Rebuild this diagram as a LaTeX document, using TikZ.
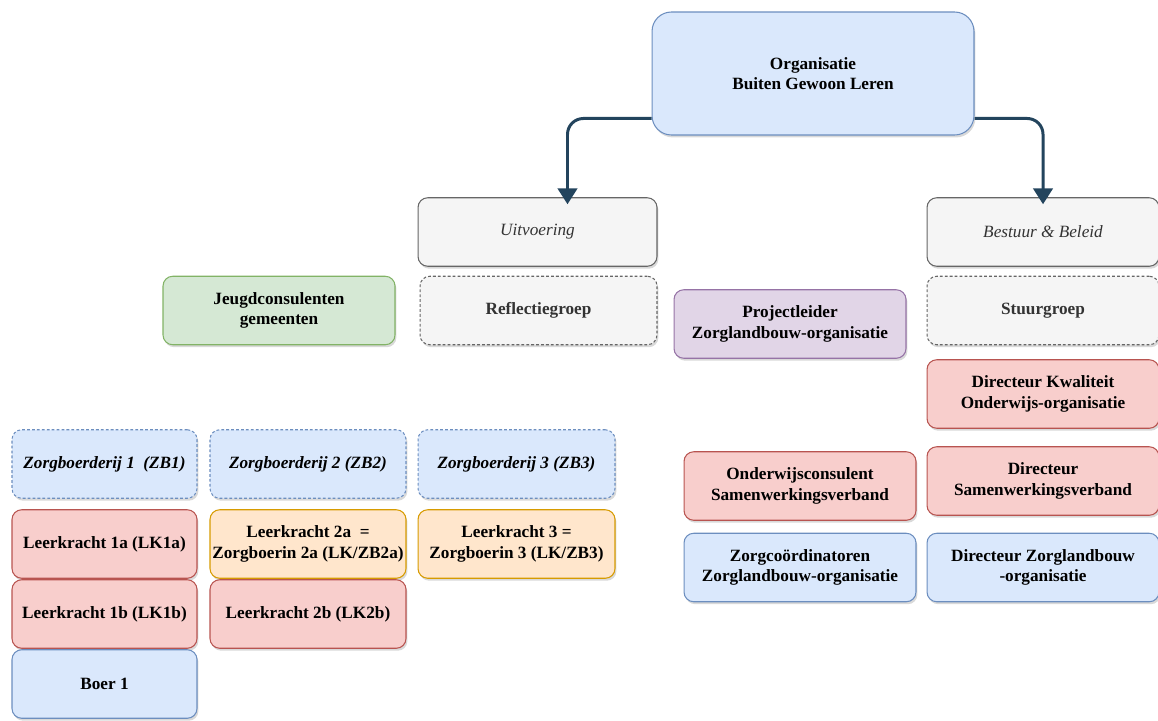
\documentclass[tikz,border=0pt]{standalone}
\usepackage{fontspec}
\setmainfont{Liberation Serif}
\usetikzlibrary{shapes,arrows.meta,shadows}
\definecolor{blauwvul}{HTML}{DAE8FC}
\definecolor{blauwlijn}{HTML}{6C8EBF}
\definecolor{roodvul}{HTML}{F8CECC}
\definecolor{roodlijn}{HTML}{B85450}
\definecolor{groenvul}{HTML}{D5E8D4}
\definecolor{groenlijn}{HTML}{82B366}
\definecolor{paarsvul}{HTML}{E1D5E7}
\definecolor{paarslijn}{HTML}{9673A6}
\definecolor{oranjevul}{HTML}{FFE6CC}
\definecolor{oranjelijn}{HTML}{D79B00}
\definecolor{grijsvul}{HTML}{F5F5F5}
\definecolor{grijslijn}{HTML}{666666}
\definecolor{grijstekst}{HTML}{333333}
\definecolor{pijlkleur}{HTML}{23445D}
\tikzset{
  blok/.style={draw,rectangle,rounded corners=5.5pt,line width=0.6pt,align=center,inner sep=0pt,
    font=\fontsize{9.8}{11.5}\selectfont\bfseries,minimum width=4.64cm,minimum height=1.37cm,
    drop shadow={opacity=0.3,shadow xshift=0.8pt,shadow yshift=-1.4pt}},
  blauw/.style={blok,fill=blauwvul,draw=blauwlijn},
  rood/.style={blok,fill=roodvul,draw=roodlijn},
  groen/.style={blok,fill=groenvul,draw=groenlijn},
  paars/.style={blok,fill=paarsvul,draw=paarslijn},
  oranje/.style={blok,fill=oranjevul,draw=oranjelijn},
  grijs/.style={blok,fill=grijsvul,draw=grijslijn,text=grijstekst},
  stippel/.style={dash pattern=on 1.6pt off 1.2pt},
  kolom/.style={minimum width=3.7cm,minimum height=1.37cm},
  pijl/.style={draw=pijlkleur,line width=1.7pt,rounded corners=9pt,shorten >=-4pt,-{Triangle[width=11pt,length=9pt]}}
}
\begin{document}
\begin{tikzpicture}[x=0.02cm,y=-0.02cm]
\useasboundingbox (0,0) rectangle (1158,720);
% top
\node[blauw,rounded corners=11pt,minimum width=6.44cm,minimum height=2.46cm] (org) at (813,73.5) {Organisatie\\Buiten Gewoon Leren};
% twee takken
\node[grijs,minimum width=4.78cm,font=\fontsize{9.8}{11.5}\selectfont\itshape] (uit) at (537.5,232) {Uitvoering};
\node[grijs,stippel,minimum width=4.74cm] (refl) at (538.5,310.5) {Reflectiegroep};
\node[grijs,font=\fontsize{9.8}{11.5}\selectfont\itshape] (best) at (1043,232) {Bestuur \& Beleid};
\node[grijs,stippel] (stuur) at (1043,310.5) {Stuurgroep};
\draw[pijl] ([yshift=-0.9cm]org.west) -| ([xshift=0.6cm]uit.north);
\draw[pijl] ([yshift=-0.9cm]org.east) -| (best.north);
% losse rollen
\node[groen] (jeugd) at (279,310.5) {Jeugdconsulenten\\gemeenten};
\node[paars] (proj) at (790,324) {Projectleider\\Zorglandbouw-organisatie};
\node[rood] (dirkw) at (1043,394) {Directeur Kwaliteit\\Onderwijs-organisatie};
\node[rood] (dirsam) at (1043,481) {Directeur\\Samenwerkingsverband};
\node[rood] (ondcons) at (800,486) {Onderwijsconsulent\\Samenwerkingsverband};
\node[blauw] (zorgco) at (800,567.5) {Zorgcoördinatoren\\Zorglandbouw-organisatie};
\node[blauw] (dirzorg) at (1043,567.5) {Directeur Zorglandbouw\\-organisatie};
% zorgboerderijen
\node[blauw,kolom,stippel,font=\fontsize{9.8}{11.5}\selectfont\bfseries\itshape] (zb1) at (104.5,464) {Zorgboerderij 1~~(ZB1)};
\node[blauw,kolom,stippel,minimum width=3.92cm,font=\fontsize{9.8}{11.5}\selectfont\bfseries\itshape] (zb2) at (308,464) {Zorgboerderij 2 (ZB2)};
\node[blauw,kolom,stippel,minimum width=3.94cm,font=\fontsize{9.8}{11.5}\selectfont\bfseries\itshape] (zb3) at (516.5,464) {Zorgboerderij 3 (ZB3)};
\node[rood,kolom] (lk1a) at (104.5,544) {Leerkracht 1a (LK1a)};
\node[rood,kolom] (lk1b) at (104.5,614) {Leerkracht 1b (LK1b)};
\node[blauw,kolom] (boer) at (104.5,684) {Boer 1};
\node[oranje,kolom,minimum width=3.92cm] (lk2a) at (308,544) {Leerkracht 2a~~=\\Zorgboerin 2a (LK/ZB2a)};
\node[rood,kolom,minimum width=3.92cm] (lk2b) at (308,614) {Leerkracht 2b (LK2b)};
\node[oranje,kolom,minimum width=3.94cm] (lk3) at (516.5,544) {Leerkracht 3 =\\Zorgboerin 3 (LK/ZB3)};
\end{tikzpicture}
\end{document}
